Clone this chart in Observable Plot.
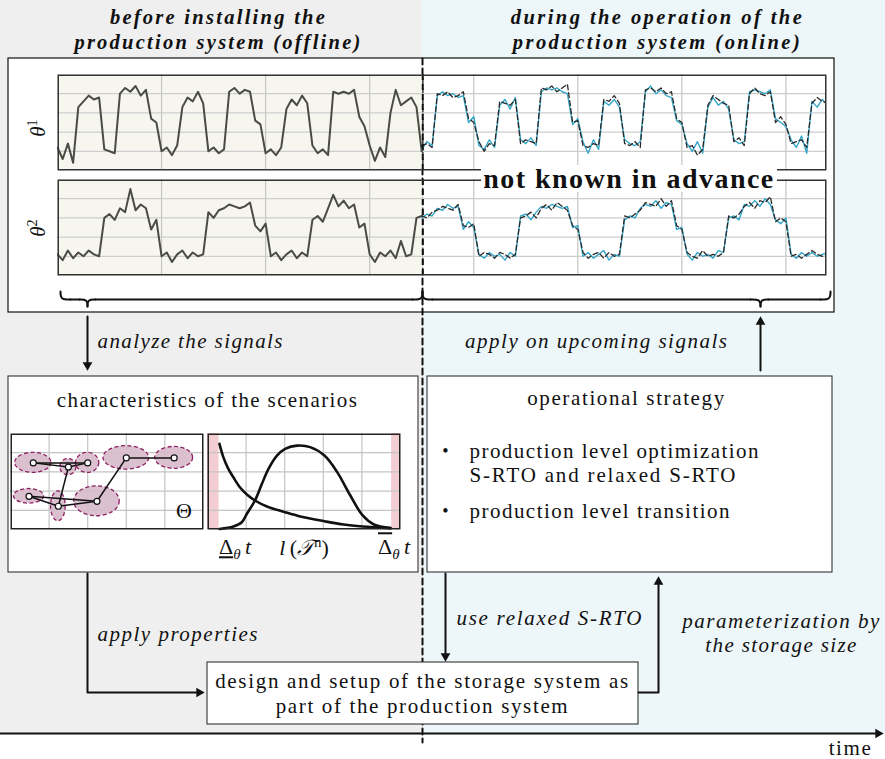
<!DOCTYPE html>
<html><head><meta charset="utf-8">
<script src="https://cdn.jsdelivr.net/npm/d3@7"></script>
<script src="https://cdn.jsdelivr.net/npm/@observablehq/plot@0.6"></script>
<style>
body{margin:0;background:#fff;}
#root{position:relative;width:885px;height:759px;overflow:hidden;font-family:'Liberation Serif',serif;color:#111;}
#root svg{position:absolute;}
.lbl{position:absolute;white-space:nowrap;line-height:1;font-family:'Liberation Serif',serif;}
.lbl sub{font-size:0.68em;vertical-align:-0.3em;}
.lbl sup{font-size:0.68em;vertical-align:0.55em;}
</style></head><body><div id="root"></div>
<script>
// ---------------- DATA ----------------
const signalStep = 0.5;
const offlineStart = 0;
const onlineStart = 35;
const splitTime = 35.1;
const timeMax = 73.9;
const gridTimes = [10, 20, 30, 40, 50, 60, 70];
const gridLevels = [1, 2, 3, 4];

const theta1Offline = [1.2,0.6,1.4,0.4,3.3,3.6,3.9,3.7,3.8,1.1, 1.0,0.9,4.0,4.3,4.1,4.4,3.9,4.2,2.7,2.5,
  1.0,1.2,0.8,1.3,3.3,3.8,3.6,4.1,3.5,1.0, 1.2,0.9,1.1,4.1,4.3,4.0,4.2,4.1,2.6,2.4,
  0.9,1.1,0.8,1.2,3.2,3.7,3.4,3.9,3.5,1.3, 0.9,1.1,0.8,4.1,4.0,4.1,4.0,4.2,2.8,2.3,
  1.3,0.5,1.2,0.7,3.0,4.2,3.4,3.6,3.8,3.3, 1.0];
const theta1OnlineMeasured = [1.1,1.5,1.3,3.9,4.1,3.9,4.0,3.8,3.9,2.5, 2.8,1.3,1.1,1.6,1.2,3.4,3.7,3.2,3.8,1.6,
  1.4,1.7,1.3,4.1,4.3,4.2,4.3,4.1,4.0,2.4, 2.7,1.5,0.9,1.6,1.1,3.6,3.4,3.7,3.3,1.6,
  1.4,1.3,1.5,4.1,4.4,4.0,4.2,3.9,3.8,2.6, 2.4,1.4,1.0,1.5,0.9,3.3,3.8,3.4,3.6,3.2,
  1.6,1.4,1.5,4.1,4.2,4.1,4.0,4.2,2.7,2.5, 2.3,1.6,1.2,1.8,0.9,3.6,3.3,3.7,3.4];
const theta1OnlinePredicted = [1.3,1.4,1.2,4.0,3.9,4.1,3.8,3.9,4.1,2.7, 2.5,1.5,1.0,1.4,1.3,3.6,3.5,3.4,3.7,1.4,
  1.6,1.5,1.4,4.3,4.2,4.4,4.1,4.3,4.5,2.5, 2.6,1.3,1.2,1.4,1.3,3.7,3.6,3.9,3.5,1.4,
  1.3,1.5,1.2,4.2,4.3,4.1,4.3,4.0,4.1,2.7, 2.5,1.2,1.3,0.8,1.1,3.4,3.9,3.7,3.5,3.4,
  1.5,1.7,1.3,4.0,4.3,4.0,3.9,4.1,2.5,2.8, 2.4,1.4,1.5,1.6,1.2,3.5,3.8,3.6,3.5];
const theta2Offline = [1.1,0.8,1.3,0.9,1.2,1.0,1.3,1.1,1.0,3.0, 3.2,2.9,3.5,3.3,4.5,3.4,3.7,3.5,2.4,2.9,
  1.0,1.2,0.7,1.1,1.3,0.9,1.2,1.0,1.1,3.3, 3.0,3.4,3.5,3.7,3.6,3.5,3.6,3.8,2.6,2.3,
  2.7,1.0,1.2,0.8,1.1,1.3,0.9,1.2,1.0,2.9, 3.1,2.8,3.5,4.2,3.6,3.9,3.5,3.7,2.5,2.7,
  1.1,0.7,1.2,1.0,1.3,0.9,1.8,1.0,1.1,3.0, 3.1];
const theta2OnlineMeasured = [3.0,3.2,3.1,3.5,3.4,3.7,3.5,3.6,2.4,2.8, 2.5,1.1,0.9,1.2,1.0,1.1,0.8,1.2,1.0,3.1,
  3.2,2.9,3.3,3.6,3.5,3.7,3.6,3.5,3.6,2.5, 2.6,1.0,1.2,0.9,1.1,1.3,0.8,1.1,1.0,2.9,
  3.1,3.0,3.5,3.7,3.6,3.9,3.5,3.8,3.7,2.4, 2.5,1.1,0.8,1.2,1.0,1.1,0.9,1.3,1.2,3.0,
  3.1,2.9,3.7,3.6,3.9,3.6,4.0,3.7,2.9,2.7, 3.0,1.1,0.9,1.2,1.0,1.2,1.0,1.1,1.2];
const theta2OnlinePredicted = [3.1,3.0,3.3,3.4,3.6,3.5,3.4,3.7,2.6,2.5, 2.7,1.0,1.2,1.1,0.9,1.2,1.1,0.9,1.1,3.0,
  3.1,3.3,3.0,3.5,3.7,3.4,3.8,3.6,3.4,2.6, 2.4,1.2,0.9,1.1,1.2,0.9,1.2,1.0,1.1,3.1,
  3.0,3.2,3.4,3.8,3.7,3.6,4.0,3.6,3.9,2.6, 2.4,1.2,1.0,0.9,1.3,1.0,1.1,1.0,1.2,3.1,
  3.0,3.2,3.6,3.8,3.5,3.9,3.8,4.1,2.8,3.0, 2.8,1.0,1.1,0.9,1.1,1.3,1.1,1.0,1.1];

// scenario characteristics (Theta space)
const scenarioIds = ["A","B","C","D","E","F","G","H"];
const scenarioX   = [0.59,1.50,2.00,3.00,4.24,0.48,1.24,2.24];
const scenarioY   = [3.47,3.25,3.47,3.73,3.73,1.73,1.21,1.47];
const spreadX     = [0.47,0.21,0.30,0.59,0.49,0.39,0.19,0.59];
const spreadY     = [0.52,0.42,0.52,0.61,0.57,0.38,0.78,0.78];
const scenarioLinks = [["A","C"],["C","B"],["B","A"],["B","G"],["F","G"],["G","H"],["H","F"],["H","D"],["D","E"]];

// duration distributions
const decayX = [0.31,0.41,0.54,0.67,0.84,1.02,1.23,1.54,2.01,2.40,3.03,3.53,4.02,4.74];
const decayY = [4.46,3.77,3.16,2.72,2.20,1.82,1.51,1.20,0.90,0.68,0.43,0.26,0.16,0.07];
const bellX  = [0.31,0.67,0.89,1.02,1.23,1.41,1.58,1.80,2.01,2.32,2.66,3.03,3.36,3.70,4.02,4.31,4.74];
const bellY  = [0.03,0.16,0.38,0.82,1.51,2.38,3.16,3.85,4.20,4.37,4.29,3.85,2.99,1.77,0.73,0.26,0.07];
const bandLimits = [0.30, 4.77];

// texts
const headerTexts = ["before installing the","production system (offline)","during the operation of the","production system (online)"];
const flowTexts = ["analyze the signals","apply on upcoming signals","apply properties","use relaxed S-RTO","parameterization by","the storage size"];
const boxTexts = ["characteristics of the scenarios","operational strategy","production level optimization","S-RTO and relaxed S-RTO","production level transition","design and setup of the storage system as","part of the production system"];
const axisText = "time";
const unknownText = "not known in advance";

// ---------------- LAYOUT ----------------
const FONT = "'Liberation Serif', serif";
const W = 885, H = 759;
const root = document.getElementById("root");
const regions = [
  {x1:0, x2:422, y1:0, y2:733},
  {x1:422, x2:W, y1:0, y2:733}
];
const topBox = [{x1:8, x2:834, y1:58, y2:312}];
const boxes = [
  {x1:8, x2:418, y1:376, y2:572},
  {x1:427, x2:832, y1:376, y2:572},
  {x1:207, x2:638, y1:662, y2:724}
];
const divider = [{x:422, y:58}, {x:422, y:742}];
const arrowLines = [
  {id:1, pts:[[87,316],[87,365]]},
  {id:2, pts:[[760,370],[760,321]]},
  {id:3, pts:[[87,573],[87,692],[198,692]]},
  {id:4, pts:[[445,573],[445,655]]},
  {id:5, pts:[[638,692],[658,692],[658,581]]},
  {id:6, pts:[[0,733],[877,733]]}
];
const arrowHeads = [
  {x:87, y:364.6, rot:180}, {x:760, y:321.4, rot:0}, {x:198.6, y:692, rot:90},
  {x:445, y:655.6, rot:180}, {x:658, y:581.4, rot:0}, {x:877.6, y:733, rot:90}
];
const braceParts = [
  [[60,291],[60,299],[70,299]], [[70,299],[79,299]], [[79,299],[87,299],[87,306]],
  [[87,306],[87,299],[95,299]], [[95,299],[412,299]], [[412,299],[422,299],[422,291]],
  [[422,291],[422,299],[432,299]], [[432,299],[750,299]], [[750,299],[760,299],[760,306]],
  [[760,306],[760,299],[768,299]], [[768,299],[820,299]], [[820,299],[830,299],[830,291]]
];
const labels = [
  {text:headerTexts[0], x:218, y:17, anchor:"middle", kind:"head", w:215},
  {text:headerTexts[1], x:218, y:42, anchor:"middle", kind:"head", w:286},
  {text:headerTexts[2], x:657, y:17, anchor:"middle", kind:"head", w:291},
  {text:headerTexts[3], x:657, y:42, anchor:"middle", kind:"head", w:287},
  {text:flowTexts[0], x:97, y:341, anchor:"start", kind:"note", w:185},
  {text:flowTexts[1], x:728, y:341, anchor:"end", kind:"note", w:262},
  {text:flowTexts[2], x:97, y:634, anchor:"start", kind:"note", w:160},
  {text:flowTexts[3], x:456, y:618, anchor:"start", kind:"note", w:185},
  {text:flowTexts[4], x:781, y:621, anchor:"middle", kind:"note", w:197},
  {text:flowTexts[5], x:781, y:645, anchor:"middle", kind:"note", w:151},
  {text:boxTexts[0], x:207, y:400, anchor:"middle", kind:"plain", w:300},
  {text:boxTexts[1], x:626, y:398, anchor:"middle", kind:"plain", w:197},
  {text:boxTexts[2], x:469, y:451, anchor:"start", kind:"plain", w:289},
  {text:boxTexts[3], x:469, y:475, anchor:"start", kind:"plain", w:266},
  {text:boxTexts[4], x:469, y:511, anchor:"start", kind:"plain", w:260},
  {text:boxTexts[5], x:422, y:681, anchor:"middle", kind:"plain", w:413},
  {text:boxTexts[6], x:422, y:706, anchor:"middle", kind:"plain", w:292},
  {text:axisText, x:850, y:748, anchor:"middle", kind:"plain", w:42}
];
const bullets = [{x:445, y:451}, {x:445, y:511}];
const kinds = {
  head:{fontStyle:"italic", fontWeight:"bold", fontSize:20.5},
  note:{fontStyle:"italic", fontWeight:"normal", fontSize:21},
  plain:{fontStyle:"normal", fontWeight:"normal", fontSize:21}
};

const textMarks = [];
for (const k of Object.keys(kinds)) for (const a of ["start","middle","end"]) {
  const sub = labels.filter(d => d.kind === k && d.anchor === a);
  if (sub.length) textMarks.push(Plot.text(sub, {x:"x", y:"y", text:"text", textAnchor:a, fontFamily:FONT, fill:"#111", ...kinds[k]}));
}

const main = Plot.plot({
  width: W, height: H, margin: 0,
  x: {domain:[0,W], range:[0,W], axis:null},
  y: {domain:[0,H], range:[0,H], axis:null},
  style: {fontFamily:FONT, background:"transparent", overflow:"visible"},
  marks: [
    Plot.rect(regions.slice(0,1), {x1:"x1", x2:"x2", y1:"y1", y2:"y2", fill:"#efefef"}),
    Plot.rect(regions.slice(1), {x1:"x1", x2:"x2", y1:"y1", y2:"y2", fill:"#edf6f9"}),
    Plot.rect(topBox, {x1:"x1", x2:"x2", y1:"y1", y2:"y2", fill:"white", stroke:"#111", strokeWidth:1.2}),
    Plot.line(divider, {x:"x", y:"y", stroke:"#111", strokeWidth:2, strokeDasharray:"6,4"}),
    Plot.rect(boxes, {x1:"x1", x2:"x2", y1:"y1", y2:"y2", fill:"white", stroke:"#333", strokeWidth:1.1}),
    Plot.line(arrowLines.flatMap(a => a.pts.map(p => ({id:a.id, x:p[0], y:p[1]}))), {x:"x", y:"y", z:"id", stroke:"#111", strokeWidth:2}),
    Plot.dot(arrowHeads, {x:"x", y:"y", symbol:"triangle", r:3.6, fill:"#111", stroke:"none", rotate:"rot"}),
    Plot.line(braceParts.flatMap((p,i) => p.map(q => ({id:i, x:q[0], y:q[1]}))), {x:"x", y:"y", z:"id", curve:"basis", stroke:"#111", strokeWidth:2}),
    Plot.text(bullets, {x:"x", y:"y", text:() => "•", fontSize:18, fontFamily:FONT, fill:"#111"}),
    ...textMarks
  ]
});
main.style.left = "0px"; main.style.top = "0px";
root.appendChild(main);

// fit text widths with letter spacing (Computer-Modern-like widths)
const targetW = new Map(labels.map(d => [d.text, d.w]));
main.querySelectorAll("text").forEach(t => {
  const w = targetW.get(t.textContent);
  if (!w) return;
  const L = t.getComputedTextLength();
  const n = t.textContent.length;
  if (L > 0 && n > 1) {
    const ls = Math.max(-0.6, Math.min(2.5, (w - L) / (n - 1)));
    t.style.letterSpacing = ls + "px";
  }
});

// ---------------- SIGNAL PANELS ----------------
const toSeries = (vals, t0) => vals.map((v, i) => ({t: t0 + i * signalStep, v}));
function signalPanel(off, onM, onP) {
  return Plot.plot({
    width: 769, height: 96, margin: 0,
    x: {domain:[0, timeMax], axis:null},
    y: {domain:[0, 5], axis:null},
    style: {background:"transparent", overflow:"visible"},
    marks: [
      Plot.rect([{a:0, b:splitTime}], {x1:"a", x2:"b", y1:() => 0, y2:() => 5, fill:"#f7f6ee"}),
      Plot.ruleX(gridTimes, {stroke:"#c4c4c4", strokeWidth:1.2}),
      Plot.ruleY(gridLevels, {stroke:"#cdcdcd", strokeWidth:1.2}),
      Plot.line(toSeries(off, offlineStart), {x:"t", y:"v", stroke:"#4b4b45", strokeWidth:2, clip:true}),
      Plot.line(toSeries(onM, onlineStart), {x:"t", y:"v", stroke:"#34a6c8", strokeWidth:1.4, clip:true}),
      Plot.line(toSeries(onP, onlineStart), {x:"t", y:"v", stroke:"#2a2a2a", strokeWidth:1.3, strokeDasharray:"5,3", clip:true}),
      Plot.ruleX([splitTime], {stroke:"#111", strokeWidth:2, strokeDasharray:"6,4"}),
      Plot.frame({stroke:"#333", strokeWidth:1.5, inset:0.75})
    ]
  });
}
const p1 = signalPanel(theta1Offline, theta1OnlineMeasured, theta1OnlinePredicted);
p1.style.left = "57px"; p1.style.top = "74px"; root.appendChild(p1);
const p2 = signalPanel(theta2Offline, theta2OnlineMeasured, theta2OnlinePredicted);
p2.style.left = "57px"; p2.style.top = "179px"; root.appendChild(p2);

// ---------------- SCENARIO PANEL ----------------
const scenarios = scenarioIds.map((id, i) => ({id, x:scenarioX[i], y:scenarioY[i], rx:spreadX[i], ry:spreadY[i]}));
const byId = new Map(scenarios.map(d => [d.id, d]));
const links = scenarioLinks.map(([a, b]) => ({x1:byId.get(a).x, y1:byId.get(a).y, x2:byId.get(b).x, y2:byId.get(b).y}));
const grid5 = [1, 2, 3, 4];
const sp = Plot.plot({
  width: 193, height: 96, margin: 0,
  x: {domain:[0,5], axis:null}, y: {domain:[0,5], axis:null},
  style: {background:"white", overflow:"visible", fontFamily:FONT},
  marks: [
    Plot.ruleX(grid5, {stroke:"#c4c4c4", strokeWidth:1.2}),
    Plot.ruleY(grid5, {stroke:"#c4c4c4", strokeWidth:1.2}),
    Plot.dot(scenarios, {x:"x", y:"y", render:(index, scales, values) => {
      const g = d3.create("svg:g");
      for (const i of index) {
        const d = scenarios[i];
        g.append("ellipse").attr("cx", values.x[i]).attr("cy", values.y[i])
          .attr("rx", Math.abs(scales.x(d.x + d.rx) - scales.x(d.x)))
          .attr("ry", Math.abs(scales.y(d.y + d.ry) - scales.y(d.y)))
          .attr("fill", "#d8bccc").attr("fill-opacity", 0.92)
          .attr("stroke", "#8e1f62").attr("stroke-width", 1.3).attr("stroke-dasharray", "4,2.5");
      }
      return g.node();
    }}),
    Plot.link(links, {x1:"x1", y1:"y1", x2:"x2", y2:"y2", stroke:"#111", strokeWidth:1.5}),
    Plot.dot(scenarios, {x:"x", y:"y", r:3, fill:"white", stroke:"#111", strokeWidth:1.2}),
    Plot.text(["Θ"], {x:() => 4.49, y:() => 0.99, text:d => d, fontSize:22, fontFamily:FONT, fill:"#111"}),
    Plot.frame({stroke:"#222", strokeWidth:1.5, inset:0.75})
  ]
});
sp.style.left = "10px"; sp.style.top = "433px"; root.appendChild(sp);

// ---------------- DISTRIBUTION PANEL ----------------
const decay = decayX.map((x, i) => ({x, y:decayY[i]}));
const bell = bellX.map((x, i) => ({x, y:bellY[i]}));
const cp = Plot.plot({
  width: 193, height: 96, margin: 0,
  x: {domain:[0,5], axis:null}, y: {domain:[0,5], axis:null},
  style: {background:"white", overflow:"visible"},
  marks: [
    Plot.rect([{a:0, b:bandLimits[0]}, {a:bandLimits[1], b:5}], {x1:"a", x2:"b", y1:() => 0, y2:() => 5, fill:"#f2cdd2"}),
    Plot.ruleX(grid5, {stroke:"#c4c4c4", strokeWidth:1.2}),
    Plot.ruleY(grid5, {stroke:"#c4c4c4", strokeWidth:1.2}),
    Plot.line(decay, {x:"x", y:"y", curve:"catmull-rom", stroke:"#111", strokeWidth:2.6}),
    Plot.line(bell, {x:"x", y:"y", curve:"catmull-rom", stroke:"#111", strokeWidth:2.6}),
    Plot.frame({stroke:"#222", strokeWidth:1.5, inset:0.75})
  ]
});
cp.style.left = "207px"; cp.style.top = "433px"; root.appendChild(cp);

// ---------------- HTML LABELS ----------------
function addLabel(html, cx, cy, size, extra) {
  const el = document.createElement("div");
  el.className = "lbl";
  el.innerHTML = html;
  el.style.fontSize = size + "px";
  el.style.left = cx + "px"; el.style.top = cy + "px";
  el.style.transform = "translate(-50%,-50%)" + (extra || "");
  root.appendChild(el);
  return el;
}
addLabel('<i>θ</i><sup>1</sup>', 37, 128, 21, " rotate(-90deg)");
addLabel('<i>θ</i><sup>2</sup>', 37, 228, 21, " rotate(-90deg)");
addLabel('<span style="text-decoration:underline">Δ</span><sub><i>θ</i></sub>&#8201;<i>t</i>', 235, 549, 22);
addLabel('<i>l</i>&#8201;(<i>𝒯</i><sup>n</sup>)', 304, 547, 22);
addLabel('<span style="text-decoration:overline">Δ</span><sub><i>θ</i></sub>&#8201;<i>t</i>', 394, 549, 22);

const unk = document.createElement("div");
unk.className = "lbl";
unk.style.cssText = "left:481px;top:165px;width:296px;height:27px;background:white;display:flex;align-items:center;justify-content:center;font-weight:bold;";
const unkSpan = document.createElement("span");
unkSpan.textContent = unknownText;
unkSpan.style.fontSize = "28px";
unk.appendChild(unkSpan);
root.appendChild(unk);
const uw = unkSpan.getBoundingClientRect().width;
if (uw > 0) unkSpan.style.letterSpacing = Math.max(-0.5, Math.min(3, (290 - uw) / (unknownText.length - 1))) + "px";
</script></body></html>
